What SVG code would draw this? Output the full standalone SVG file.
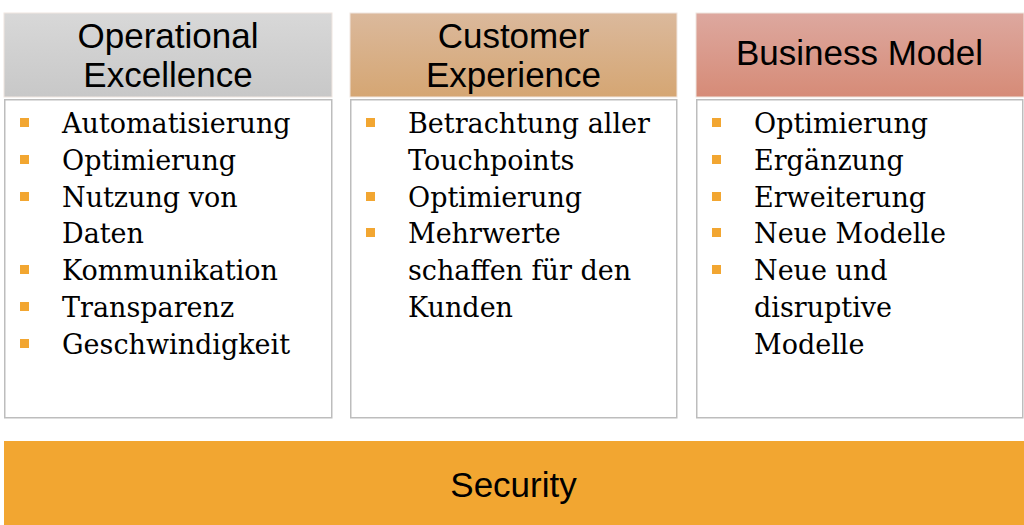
<svg xmlns="http://www.w3.org/2000/svg" width="1024" height="525" viewBox="0 0 1024 525">
  <defs>
    <linearGradient id="g1" x1="0" y1="0" x2="0" y2="1">
      <stop offset="0" stop-color="#d8d8d8"/>
      <stop offset="1" stop-color="#c8c8c8"/>
    </linearGradient>
    <linearGradient id="g2" x1="0" y1="0" x2="0" y2="1">
      <stop offset="0" stop-color="#dbb99c"/>
      <stop offset="1" stop-color="#d5a673"/>
    </linearGradient>
    <linearGradient id="g3" x1="0" y1="0" x2="0" y2="1">
      <stop offset="0" stop-color="#dda89f"/>
      <stop offset="1" stop-color="#d68b77"/>
    </linearGradient>
  </defs>
  <style>
    .head { font-family: "Liberation Sans", Arial, sans-serif; font-size: 35px; fill: #000; text-anchor: middle; }
    .body { fill: #fff; stroke: #bdbdbd; stroke-width: 1.5; }
    .item { font-family: "DejaVu Serif", "Liberation Serif", serif; font-size: 27px; fill: #000; }
    .bul { fill: #f2a631; }
    .hbox { stroke: #f0e6e0; stroke-width: 1; }
  </style>
  <rect width="1024" height="525" fill="#fff"/>

  <g id="col1">
    <rect class="hbox" x="4" y="13" width="328" height="84" fill="url(#g1)"/>
    <text class="head" x="168" y="48">Operational</text>
    <text class="head" x="168" y="87">Excellence</text>
    <rect class="body" x="4.75" y="99.75" width="327" height="318"/>
    <rect class="bul" x="20" y="118" width="9" height="9"/>
    <rect class="bul" x="20" y="155" width="9" height="9"/>
    <rect class="bul" x="20" y="192" width="9" height="9"/>
    <rect class="bul" x="20" y="265" width="9" height="9"/>
    <rect class="bul" x="20" y="302" width="9" height="9"/>
    <rect class="bul" x="20" y="339" width="9" height="9"/>
    <text class="item" x="62" y="133">Automatisierung</text>
    <text class="item" x="62" y="170">Optimierung</text>
    <text class="item" x="62" y="207">Nutzung von</text>
    <text class="item" x="62" y="243">Daten</text>
    <text class="item" x="62" y="280">Kommunikation</text>
    <text class="item" x="62" y="317">Transparenz</text>
    <text class="item" x="62" y="354">Geschwindigkeit</text>
  </g>

  <g id="col2">
    <rect class="hbox" x="350" y="13" width="327" height="84" fill="url(#g2)"/>
    <text class="head" x="513.5" y="48">Customer</text>
    <text class="head" x="513.5" y="87">Experience</text>
    <rect class="body" x="350.75" y="99.75" width="326" height="318"/>
    <rect class="bul" x="366" y="118" width="9" height="9"/>
    <rect class="bul" x="366" y="192" width="9" height="9"/>
    <rect class="bul" x="366" y="228" width="9" height="9"/>
    <text class="item" x="408" y="133">Betrachtung aller</text>
    <text class="item" x="408" y="170">Touchpoints</text>
    <text class="item" x="408" y="207">Optimierung</text>
    <text class="item" x="408" y="243">Mehrwerte</text>
    <text class="item" x="408" y="280">schaffen für den</text>
    <text class="item" x="408" y="317">Kunden</text>
  </g>

  <g id="col3">
    <rect class="hbox" x="696" y="13" width="328" height="84" fill="url(#g3)"/>
    <text class="head" x="859.5" y="65">Business Model</text>
    <rect class="body" x="696.75" y="99.75" width="326" height="318"/>
    <rect class="bul" x="712" y="118" width="9" height="9"/>
    <rect class="bul" x="712" y="155" width="9" height="9"/>
    <rect class="bul" x="712" y="192" width="9" height="9"/>
    <rect class="bul" x="712" y="228" width="9" height="9"/>
    <rect class="bul" x="712" y="265" width="9" height="9"/>
    <text class="item" x="754" y="133">Optimierung</text>
    <text class="item" x="754" y="170">Ergänzung</text>
    <text class="item" x="754" y="207">Erweiterung</text>
    <text class="item" x="754" y="243">Neue Modelle</text>
    <text class="item" x="754" y="280">Neue und</text>
    <text class="item" x="754" y="317">disruptive</text>
    <text class="item" x="754" y="354">Modelle</text>
  </g>

  <g id="security">
    <rect x="4" y="441" width="1020" height="84" fill="#f2a631"/>
    <text class="head" x="513.5" y="497">Security</text>
  </g>

  <g id="connectors"></g>
</svg>
